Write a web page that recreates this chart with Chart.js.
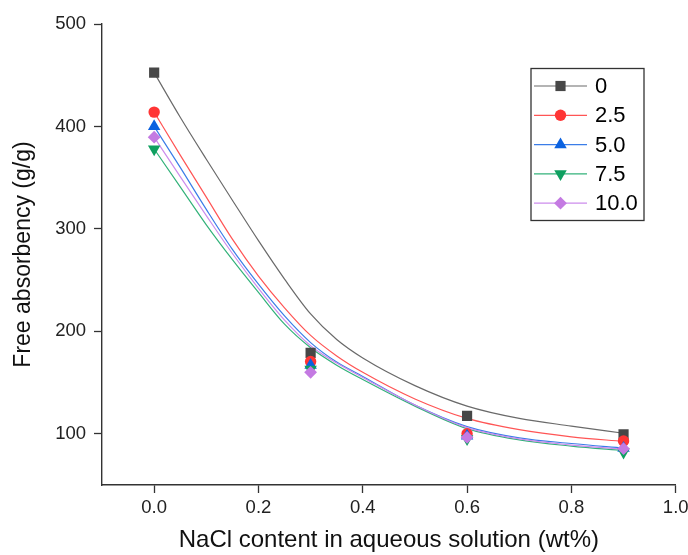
<!DOCTYPE html>
<html><head><meta charset="utf-8">
<script src="https://cdn.jsdelivr.net/npm/chart.js@4/dist/chart.umd.min.js"></script>
<style>html,body{margin:0;padding:0;background:#fff}#wrap{width:688px;height:555px;position:relative}</style>
</head><body><div id="wrap"><canvas id="c" width="688" height="555"></canvas></div>
<script>
// ---- data ----
const seriesNames = ['0', '2.5', '5.0', '7.5', '10.0'];
const naclContent = [0, 0.3, 0.6, 0.9];
const absorb0   = [452.5, 179, 117.5, 99.5];
const absorb2_5 = [414, 170.5, 100, 93];
const absorb5_0 = [400, 167, 98, 86];
const absorb7_5 = [378, 163, 95, 82];
const absorb10  = [389.5, 160, 96.5, 85.5];
// fitted curves, points
const fitX      = [0, 0.05, 0.1, 0.15, 0.2, 0.25, 0.3, 0.35, 0.4, 0.5, 0.6, 0.7, 0.8, 0.9];
const fit0      = [452.5, 409, 368, 328, 288.5, 251, 217, 192, 174, 147, 127, 115, 107.5, 100.5];
const fit2_5    = [414, 372, 331, 290, 254, 223, 196, 176, 160, 134, 115, 104, 97, 92.5];
const fit5_0    = [400, 360, 319, 280, 246, 215, 189, 170, 156, 128, 107, 96, 90.5, 86];
const fit7_5    = [378, 341, 304, 270, 238, 207, 184, 167, 153, 127, 105, 94, 88, 83.7];
const fit10     = [389.5, 351, 313, 276, 242, 211, 186, 169, 155, 128, 106, 95, 89, 85];
const xTickValues = [0, 0.2, 0.4, 0.6, 0.8, 1.0];
const yTickValues = [100, 200, 300, 400, 500];
const xTitle = 'NaCl content in aqueous solution (wt%)';
const yTitle = 'Free absorbency (g/g)';

// ---- styles ----
const markerColors = ['#474747', '#ff3535', '#0b62e0', '#0fa060', '#c47ae2'];
const lineColors   = ['#6a6a6a', '#ff5555', '#3b7de8', '#33b27a', '#cc8cec'];
const shapes = ['rect', 'circle', 'triangle', 'triangle', 'rectRot'];
const rotations = [0, 0, 0, 180, 0];
const radii = [7.2, 5.7, 7.2, 7.2, 6.4];
const FONT = "Arial, 'Liberation Sans', sans-serif";

const pointSets = [absorb0, absorb2_5, absorb5_0, absorb7_5, absorb10];
const fitSets = [fit0, fit2_5, fit5_0, fit7_5, fit10];

const datasets = [];
seriesNames.forEach((name, i) => {
  datasets.push({
    label: name,
    data: naclContent.map((x, k) => ({x, y: pointSets[i][k]})),
    showLine: false,
    pointStyle: shapes[i],
    rotation: rotations[i],
    pointRadius: radii[i],
    pointHoverRadius: radii[i],
    pointBackgroundColor: markerColors[i],
    pointBorderColor: markerColors[i],
    pointBorderWidth: 0,
    order: 4 - i
  });
});
seriesNames.forEach((name, i) => {
  datasets.push({
    label: name + ' fit',
    data: fitX.map((x, k) => ({x, y: fitSets[i][k]})),
    borderColor: lineColors[i],
    borderWidth: 1.2,
    pointRadius: 0,
    fill: false,
    cubicInterpolationMode: 'monotone',
    order: 20 - i
  });
});

function drawMarker(ctx, shape, rot, r, x, y, color) {
  ctx.save();
  ctx.fillStyle = color;
  ctx.beginPath();
  if (shape === 'circle') {
    ctx.arc(x, y, r, 0, Math.PI * 2);
  } else if (shape === 'rect') {
    const s = r * Math.SQRT1_2;
    ctx.rect(x - s, y - s, 2 * s, 2 * s);
  } else if (shape === 'rectRot') {
    ctx.moveTo(x, y - r); ctx.lineTo(x + r, y); ctx.lineTo(x, y + r); ctx.lineTo(x - r, y);
    ctx.closePath();
  } else if (shape === 'triangle') {
    let a = rot * Math.PI / 180;
    for (let k = 0; k < 3; k++) {
      const px = x + Math.sin(a) * r, py = y - Math.cos(a) * r;
      if (k === 0) ctx.moveTo(px, py); else ctx.lineTo(px, py);
      a += 2 * Math.PI / 3;
    }
    ctx.closePath();
  }
  ctx.fill();
  ctx.restore();
}

const legendPlugin = {
  id: 'boxLegend',
  afterDraw(chart) {
    const ctx = chart.ctx;
    const box = {x: 531, y: 68.5, w: 113, h: 152};
    ctx.save();
    ctx.strokeStyle = '#333';
    ctx.lineWidth = 1.3;
    ctx.strokeRect(box.x, box.y, box.w, box.h);
    ctx.font = '22px ' + FONT;
    ctx.textBaseline = 'middle';
    ctx.textAlign = 'left';
    seriesNames.forEach((name, i) => {
      const cy = 86 + i * 29.3;
      ctx.strokeStyle = lineColors[i];
      ctx.lineWidth = 1.2;
      ctx.beginPath(); ctx.moveTo(534, cy); ctx.lineTo(587, cy); ctx.stroke();
      drawMarker(ctx, shapes[i], rotations[i], radii[i], 560.5, cy, markerColors[i]);
      ctx.fillStyle = '#000';
      ctx.fillText(name, 595, cy + 1);
    });
    ctx.restore();
  }
};

new Chart(document.getElementById('c'), {
  type: 'line',
  data: {datasets},
  plugins: [legendPlugin],
  options: {
    responsive: false,
    devicePixelRatio: 1,
    animation: false,
    layout: {padding: {top: 24, right: 12.3, left: 0, bottom: 0}},
    plugins: {legend: {display: false}, tooltip: {enabled: false}},
    scales: {
      x: {
        type: 'linear', position: 'bottom', min: -0.1, max: 1.0,
        afterBuildTicks: s => { s.ticks = xTickValues.map(v => ({value: v})); },
        afterFit: s => { s.height = 70; s.paddingLeft = 0; s.paddingRight = 0; },
        ticks: {callback: v => Number(v).toFixed(1), font: {family: FONT, size: 18.5}, color: '#222', padding: 4, maxRotation: 0, autoSkip: false},
        grid: {drawOnChartArea: false, drawTicks: true, tickLength: 8, tickColor: '#333', tickWidth: 1.3},
        border: {display: true, color: '#333', width: 1.4},
        title: {display: true, text: xTitle, font: {family: FONT, size: 24}, color: '#111', padding: {top: 0, bottom: 0}}
      },
      y: {
        type: 'linear', position: 'left', min: 50, max: 500,
        afterBuildTicks: s => { s.ticks = yTickValues.map(v => ({value: v})); },
        afterFit: s => { s.width = 102; },
        ticks: {font: {family: FONT, size: 18.5}, color: '#222', padding: 8, autoSkip: false},
        grid: {drawOnChartArea: false, drawTicks: true, tickLength: 8, tickColor: '#333', tickWidth: 1.3},
        border: {display: true, color: '#333', width: 1.4},
        title: {display: true, text: yTitle, font: {family: FONT, size: 23}, color: '#111', padding: {top: 10, bottom: 0}}
      }
    }
  }
});
</script>
</body></html>
